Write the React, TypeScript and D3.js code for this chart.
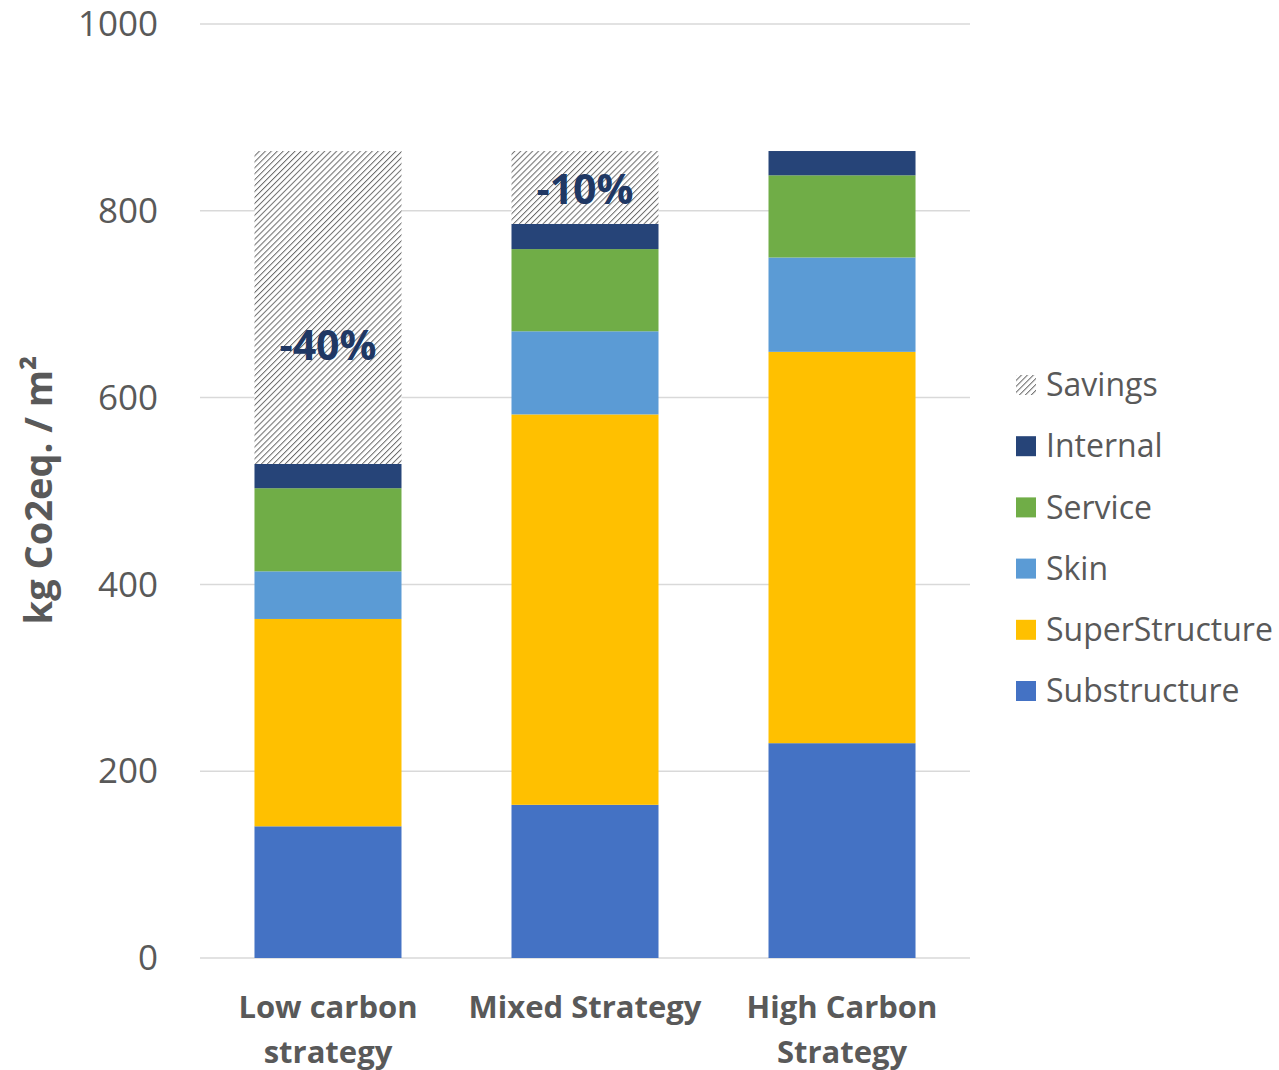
import React from "react";
import * as d3 from "d3";

const categories = ["Low carbon|strategy", "Mixed Strategy", "High Carbon|Strategy"];
const substructure = [141, 164, 230];
const superStructure = [222, 418, 419];
const skin = [51, 89, 101];
const service = [89, 88, 88];
const internal = [26, 27, 26];
const savings = [335, 78, 0];
const savingsLabels = ["-40%", "-10%", ""];
const yTicks = [0, 200, 400, 600, 800, 1000];

const seriesNames = ["Substructure", "SuperStructure", "Skin", "Service", "Internal", "Savings"];
const seriesColors = ["#4472C4", "#FFC000", "#5B9BD5", "#70AD47", "#264478", "url(#hatch)"];

export default function App() {
  const W = 1279, H = 1070;
  const plotLeft = 200, plotRight = 970;
  const y = d3.scaleLinear().domain([0, 1000]).range([958, 24]);
  const x = d3.scaleBand().domain(categories).range([plotLeft, plotRight]).paddingInner(0.428).paddingOuter(0.212);

  const rows = categories.map((c, i) => ({
    cat: c,
    Substructure: substructure[i],
    SuperStructure: superStructure[i],
    Skin: skin[i],
    Service: service[i],
    Internal: internal[i],
    Savings: savings[i],
  }));
  const stacked = d3.stack<any>().keys(seriesNames)(rows);
  const font = "'Open Sans', sans-serif";
  const gray = "#595959";

  const legendOrder = [...seriesNames].reverse();

  return (
    <svg width={W} height={H} style={{ position: "absolute", left: 0, top: 0, background: "#fff" }}>
      <defs>
        <pattern id="hatch" patternUnits="userSpaceOnUse" width="4.2" height="4.2" patternTransform="rotate(45)">
          <rect width="4.2" height="4.2" fill="#fff" />
          <line x1="0" y1="0" x2="0" y2="4.2" stroke="#6a6a6a" strokeWidth="2" />
        </pattern>
      </defs>
      {yTicks.map((t) => (
        <g key={t}>
          <line x1={plotLeft} x2={plotRight} y1={y(t)} y2={y(t)} stroke="#d9d9d9" strokeWidth={1.5} />
          <text x={158} y={y(t)} dy="0.35em" textAnchor="end" fontFamily={font} fontSize={35} fill={gray}>
            {t}
          </text>
        </g>
      ))}
      {stacked.map((s, si) =>
        s.map((d, i) =>
          d[1] - d[0] > 0 ? (
            <rect
              key={`${si}-${i}`}
              x={x(categories[i])}
              width={x.bandwidth()}
              y={y(d[1])}
              height={y(d[0]) - y(d[1])}
              fill={seriesColors[si]}
            />
          ) : null
        )
      )}
      {categories.map((c, i) => {
        const s = stacked[5][i];
        if (!savingsLabels[i]) return null;
        const mid = (y(s[0]) + y(s[1])) / 2;
        const cy = i === 0 ? mid + 38 : mid + 2;
        return (
          <text key={c} x={x(c)! + x.bandwidth() / 2} y={cy} dy="0.35em" textAnchor="middle" fontFamily={font} fontWeight={700} fontSize={41} fill="#203864">
            {savingsLabels[i]}
          </text>
        );
      })}
      {categories.map((c) => {
        const lines = c.split("|");
        return (
          <text key={c} textAnchor="middle" fontFamily={font} fontWeight={700} fontSize={31} fill={gray}>
            {lines.map((l, li) => (
              <tspan key={li} x={x(c)! + x.bandwidth() / 2} y={1018 + li * 45}>
                {l}
              </tspan>
            ))}
          </text>
        );
      })}
      <text transform="translate(52,490) rotate(-90)" textAnchor="middle" fontFamily={font} fontWeight={700} fontSize={38} fill={gray}>
        kg Co2eq. / m²
      </text>
      {legendOrder.map((n, i) => {
        const si = seriesNames.indexOf(n);
        const cy = 385 + i * 61.2;
        return (
          <g key={n}>
            <rect x={1016} y={cy - 10} width={20} height={20} fill={seriesColors[si]} />
            <text x={1046} y={cy} dy="0.35em" fontFamily={font} fontSize={32} fill={gray}>
              {n}
            </text>
          </g>
        );
      })}
    </svg>
  );
}
